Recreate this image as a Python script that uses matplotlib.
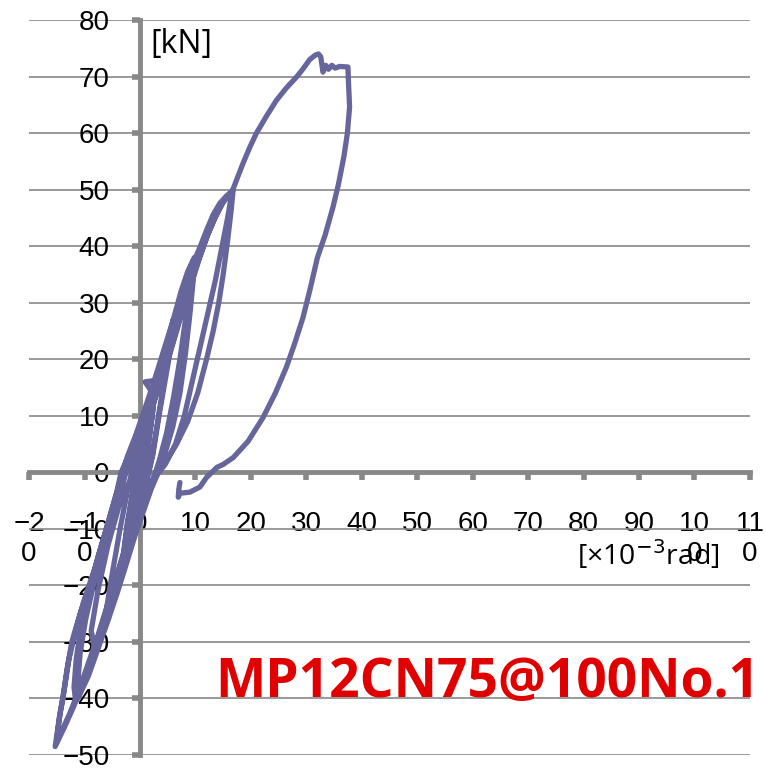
import matplotlib
matplotlib.use('Agg')
import matplotlib.pyplot as plt

# rotation angle [x10^-3 rad] and load [kN], traced from the test record
# small cycles (+-8 kN)
x_a = [0, 0.5, 1.2, 0.8, 0.3, -0.4, -1.2, -0.8, -0.2, 0.5, 1.3, 0.9, 0.2, -0.5, -1.3, -0.7, 0]
y_a = [0, 4, 8, 4, 0, -4, -8, -4, 0, 4.5, 8.5, 4, 0, -4, -8.5, -4, 0]
# +-16 kN cycles
x_b = [1.0, 2.0, 2.8, 2.2, 1.4, 0.8, -0.5, -1.8, -3.0, -2.2, -1.2, -0.5, 0.6, 1.6, 2.3, 0.9, 2.9,
       2.2, 1.3, 0.7, -0.8, -3.2, -2.3, -1.0, 0]
y_b = [6, 11, 16, 10, 4, 0, -5, -10, -15, -9, -3, 0, 5, 10, 14, 16, 16.3,
       10, 4, 0, -6, -16, -9, -2, 0]
# +-27 kN cycles
x_c = [1.5, 3.0, 4.5, 6.0, 5.0, 3.5, 2.2, 1.5, 0.0, -2.0, -4.0, -6.5, -5.2, -3.6, -2.2, -1.5,
       0, 2, 4, 6.3, 5.2, 3.6, 2.3, 1.6, -0.5, -3, -5.4, -8.2, -8.8, -7.6, -5.8, -3.8, -2.0, -1]
y_c = [8, 15, 21, 27, 20, 11, 3, 0, -6, -12, -19, -27, -19, -10, -3, 0,
       5, 11, 18, 27.5, 20, 11, 3, 0, -7, -15, -23, -31, -28, -21, -13, -6, -2, 0]
# +37 / -40 kN cycles
x_d = [-1.5, 0, 1.5, 3, 4.5, 6, 7.5, 8.6, 9.4,
       9.0, 8.2, 7.2, 6, 4.8, 3.6, 2.8,
       1.5, 0, -1.4, -2.8, -4.1, -5.8, -7.7, -9.4, -11,
       -11.2, -10.8, -9.8, -8.4, -6.8, -5, -3.6, -2.8,
       -1.8, -0.5, 1, 2.6, 4.2, 5.6, 7, 8.4, 9.6,
       9.3, 8.6, 7.7, 6.6, 5.4, 4, 3,
       1.8, 0.2, -1.2, -2.6, -4.3, -6, -7.9, -9.8, -11.6,
       -11.9, -11.5, -10.6, -9.2, -7.4, -5.6, -4, -3.2,
       -2.2, -0.8, 0.8, 2.5, 4.4, 6, 7.4, 8.6, 9.8,
       9.6, 9, 8.2, 7.2, 5.9, 4.4, 3.3,
       2, 0.4, -1, -2.4, -4, -5.7, -7.5, -9.3, -11.2,
       -11.6, -11.3, -10.4, -9.2, -7.6, -5.8, -4.2, -3.4]
y_d = [0, 4, 9, 14, 19, 25, 31, 35, 37,
       33, 27, 20, 13, 7, 2.5, 0,
       -3, -6.5, -10, -15, -20, -25, -30, -35, -39.5,
       -37, -32, -26, -20, -14, -8, -3, 0,
       3, 6, 10, 15, 20, 25, 30, 34, 37.5,
       34, 28, 21, 14, 8, 3, 0,
       -3, -7, -11, -16, -21, -26, -31, -36, -40.5,
       -38, -33, -27, -21, -14.5, -8.5, -3, 0,
       3, 6.5, 11, 16, 22, 27, 32, 35.5, 38,
       34, 28, 21, 14, 8, 3, 0,
       -3, -7.5, -11.5, -16, -21, -26, -31, -36, -40,
       -37.5, -33, -27, -21, -15, -9, -3.5, 0]
# +50 / -48 kN cycles
x_e = [-2, -0.5, 1, 2.8, 4.8, 6.6, 8.2, 9.6, 10.8, 12, 13.2, 14.4, 15.6, 16.6,
       15.8, 14.8, 13.6, 12.2, 10.8, 9.4, 8, 6.4, 4.6, 3,
       1.5, 0, -1.4, -2.8, -4.2, -5.6, -7.2, -8.8, -10.4, -12, -13.6, -15.3,
       -15.0, -14.5, -13.9, -13.2, -12.3, -10.8, -9, -7.1, -5.2, -3.8, -2.6,
       -1.2, 0.2, 1.8, 3.6, 5.6, 7.4, 9, 10.5, 12, 13.4, 14.8, 16, 16.8,
       16.4, 15.8, 15, 14.2, 13.2, 12, 10.4, 8.6, 6.6, 4.4, 2.5,
       1, -0.5, -1.8, -3.2, -4.6, -6.2, -7.8, -9.4, -11, -12.6, -14, -15,
       -14.8, -14.3, -13.6, -12.8, -11.6, -10.2, -8.5, -6.6, -4.8, -3.4, -2.6]
y_e = [3, 7, 11, 16, 22, 28, 33, 37, 39.8, 42.8, 45.6, 47.6, 48.9, 49.6,
       45, 40, 34, 28, 22, 16, 10, 5, 1.5, -0.5,
       -3, -6, -10, -14, -18.5, -23, -28, -33, -37.5, -41.5, -45, -48.5,
       -46.5, -43, -40, -35, -30, -25, -20, -15, -10, -5.5, 0,
       3, 7, 11, 16, 22, 28, 33, 37.5, 41.5, 44.8, 47.5, 49.2, 50,
       46, 41, 35, 30, 25, 20, 14, 9, 5, 1.5, -1,
       -4, -7.5, -11, -15, -19.5, -24.5, -29.5, -34, -38.5, -42.5, -45.5, -47.5,
       -45.5, -42, -38, -33, -28, -23, -18, -12.5, -7, -2.5, 0]
# final large cycle
x_f = [-1.4, 0, 1.6, 3.4, 5.4, 7.2, 9, 10.6, 12.2, 13.6, 15, 16.6, 17.6, 18.6, 19.8, 21,
       22.8, 24.6, 26.4, 28.3, 29.5, 30.6, 31.6, 32.2, 32.6, 33, 33.5, 34, 34.6, 35.2, 36,
       37.5, 37.6, 37.8, 37.4, 36.8, 35.8, 34.8, 33.4, 32, 30.7, 29.4, 27.9, 26.4, 24.4,
       22.2, 19.5, 16.8, 15, 13.9, 12, 10.8, 9, 7.2, 6.9, 7.0, 7.2]
y_f = [3, 6.5, 10, 15, 21, 27, 32.5, 37.5, 42, 45.2, 47.8, 49.6, 52.2, 54.7, 57.5, 60,
       63, 65.8, 68, 70, 71.5, 73, 73.8, 74, 73.5, 70.8, 72, 71.3, 72, 71.5, 71.8,
       71.7, 69, 64.6, 60, 56, 51, 46.9, 42, 38, 32.5, 27.4, 22.8, 18.6, 14,
       9.7, 5.5, 2.6, 1.4, 0.9, -0.9, -2.6, -3.5, -3.7, -4.4, -3, -1.8]

x_all = x_a + x_b + x_c + x_d + x_e + x_f
y_all = y_a + y_b + y_c + y_d + y_e + y_f

x_ticks = list(range(-20, 111, 10))
x_tick_labels = ['\u22122\n0', '\u22121\n0', '0', '10', '20', '30', '40', '50', '60', '70',
                 '80', '90', '10\n0', '11\n0']
y_ticks = list(range(-50, 81, 10))

plt.rcParams['font.family'] = ['Liberation Sans', 'DejaVu Sans']
plt.rcParams['axes.unicode_minus'] = True

fig = plt.figure(figsize=(7.66, 7.72), dpi=100)
ax = fig.add_axes([0.038, 0.022, 0.941, 0.952])

ax.plot(x_all, y_all, color='#66669c', lw=3.8, solid_joinstyle='round',
        solid_capstyle='round', zorder=3)

ax.set_xlim(-20, 110)
ax.set_ylim(-50, 80)
ax.set_xticks(x_ticks)
ax.set_xticklabels(x_tick_labels, linespacing=1.3)
ax.set_yticks(y_ticks)
ax.tick_params(axis='y', labelsize=20, length=6, width=4, color='#888888', pad=16)
ax.tick_params(axis='x', labelsize=20, length=6, width=4, color='#888888', pad=22)

ax.grid(axis='y', color='#888888', lw=1.2, zorder=1)
ax.spines['left'].set_position(('data', 0))
ax.spines['bottom'].set_position(('data', 0))
ax.spines['top'].set_visible(False)
ax.spines['right'].set_visible(False)
for s in ('left', 'bottom'):
    ax.spines[s].set_color('#888888')
    ax.spines[s].set_linewidth(3.5)
    ax.spines[s].set_zorder(2)

ax.text(1.8, 75.6, '[kN]', fontsize=23, family=['Open Sans', 'DejaVu Sans'], va='center')
ax.text(78.8, -14.7, '[\u00d710$^{-3}$rad]', fontsize=20.5, family=['Open Sans', 'DejaVu Sans'],
        va='center')
ax.text(13.6, -37.3, 'MP12CN75@100No.1', fontsize=38.4, fontweight='bold', color='#e00000',
        family=['Open Sans', 'DejaVu Sans'], va='center')

fig.savefig('out.png', dpi=100)
